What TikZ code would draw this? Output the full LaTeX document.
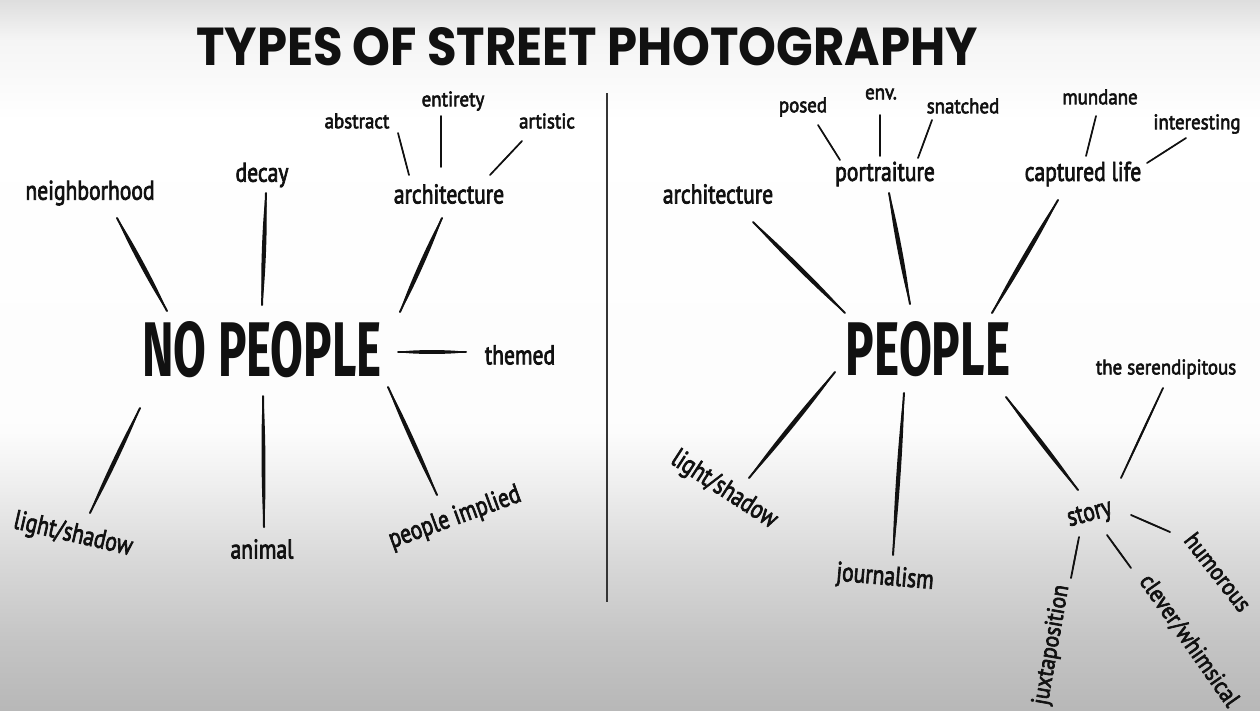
\documentclass[tikz,border=0pt]{standalone}
\usepackage{fontspec}
\usetikzlibrary{calc}
\newfontfamily\lblfont{PT Sans}[FakeBold=3]
\newfontfamily\bigfont{Fira Sans}
\newfontfamily\titlefont{Poppins}
\definecolor{ink}{HTML}{111111}
\definecolor{bgA}{gray}{0.72}
\definecolor{bgB}{gray}{0.77}
\definecolor{bgC}{gray}{0.85}
\definecolor{bgD}{gray}{0.94}
\definecolor{bgE}{gray}{0.99}
\definecolor{bgF}{gray}{1.0}
\definecolor{bgG}{gray}{0.96}
\definecolor{bgH}{gray}{0.87}
\pgfdeclareverticalshading{bgshade}{100bp}{color(0bp)=(bgA); color(25bp)=(bgA); color(29.9bp)=(bgB); color(35.6bp)=(bgC); color(41.2bp)=(bgD); color(44.7bp)=(bgE); color(66.5bp)=(bgF); color(72.2bp)=(bgG); color(75bp)=(bgH); color(100bp)=(bgH)}
\newcommand\cx[1]{\scalebox{0.8}[1]{#1}}
\newcommand\sx[1]{\scalebox{0.9}[1]{#1}}
\newcommand\tline[5]{%
  \coordinate (#1-s) at (#4);
  \coordinate (#1-e) at (#5);
  \fill[ink] (#1-s) .. controls ($(#1-s)!0.2!(#1-e)!#2!90:(#1-e)$) and ($(#1-s)!0.8!(#1-e)!#2!90:(#1-e)$) .. (#1-e)
    .. controls ($(#1-s)!0.8!(#1-e)!#2!-90:(#1-e)$) and ($(#1-s)!0.2!(#1-e)!#2!-90:(#1-e)$) .. (#1-s) -- cycle;
  \draw[ink, line width=#3, line cap=round] (#1-s) -- (#1-e);}
\tikzset{
  lab/.style={font=\lblfont\fontsize{27}{27}\selectfont, inner sep=1pt, text=ink},
  sml/.style={font=\lblfont\fontsize{21}{21}\selectfont, inner sep=1pt, text=ink},
  rot/.style={font=\lblfont\fontsize{24}{24}\selectfont, inner sep=1pt, text=ink},
  big/.style={font=\bigfont\bfseries, inner sep=0pt, text=ink},
}
\begin{document}
\begin{tikzpicture}[x=1pt,y=-1pt]
\useasboundingbox (0,0) rectangle (1260,710);
\shade[shading=bgshade] (0,0) rectangle (1260,710);
% title
\node[inner sep=0pt, text=ink] (title) at (587,47) {\titlefont\bfseries\resizebox{781pt}{38pt}{TYPES OF STREET PHOTOGRAPHY}};
% divider
\coordinate (divtop) at (607,93);
\coordinate (divbot) at (607,602);
\draw[ink!85, line width=1.8pt] (divtop) -- (divbot);
% ---------- left ----------
\node[big] (np) at (262,350) {\resizebox{239pt}{55pt}{NO PEOPLE}};
\node[lab] (nbh) at (90,193) {\cx{neighborhood}};
\node[lab] (decay) at (262,175) {\cx{decay}};
\node[lab] (archL) at (449,194) {\cx{architecture}};
\node[sml] (abstract) at (357,121) {\sx{abstract}};
\node[sml] (entirety) at (453,101) {\sx{entirety}};
\node[sml] (artistic) at (547,121) {\sx{artistic}};
\node[lab] (themed) at (520,355) {\cx{themed}};
\node[lab, rotate=-13] (lsL) at (73,535) {\cx{light/shadow}};
\node[lab] (animal) at (262,549) {\cx{animal}};
\node[lab, rotate=20] (pimp) at (455,518) {\cx{people implied}};
\tline{l1}{3.0pt}{2pt}{117,218}{167,311}
\tline{l2}{2.8pt}{2pt}{266,193}{262,305}
\tline{l3}{3.0pt}{2pt}{442,218}{400,312}
\tline{l4}{2.6pt}{2pt}{398,352}{466,352}
\tline{l5}{2.8pt}{2pt}{140,408}{90,513}
\tline{l6}{2.6pt}{2pt}{263,396}{264,527}
\tline{l7}{2.8pt}{2pt}{388,387}{437,495}
\tline{l8}{0.8pt}{1.7pt}{398,133}{409,175}
\tline{l9}{0.8pt}{1.7pt}{441,116}{441,167}
\tline{l10}{0.8pt}{1.7pt}{522,141}{490,175}
% ---------- right ----------
\node[big] (pp) at (928,349) {\resizebox{164pt}{54pt}{PEOPLE}};
\node[lab] (archR) at (718,194) {\cx{architecture}};
\node[lab] (portr) at (885,174) {\cx{portraiture}};
\node[sml] (posed) at (803,107) {\sx{posed}};
\node[sml] (env) at (881,94) {\sx{env.}};
\node[sml] (snatched) at (963,106) {\sx{snatched}};
\node[lab] (capt) at (1083,174) {\cx{captured life}};
\node[sml] (mundane) at (1100,97) {\sx{mundane}};
\node[sml] (interesting) at (1197,124) {\sx{interesting}};
\node[sml] (seren) at (1166,369) {\sx{the serendipitous}};
\node[lab, rotate=-33] (lsR) at (724,490) {\cx{light/shadow}};
\node[lab, rotate=-5] (journ) at (885,578) {\cx{journalism}};
\node[lab, rotate=15] (story) at (1090,515) {\cx{story}};
\node[rot, rotate=-52] (humor) at (1218,572) {\sx{humorous}};
\node[rot, rotate=-55] (clever) at (1189,641) {\sx{clever/whimsical}};
\node[rot, rotate=80] (juxt) at (1052,645) {\sx{juxtaposition}};
\tline{r1}{3.0pt}{2pt}{753,222}{845,313}
\tline{r2}{3.0pt}{2pt}{889,193}{910,304}
\tline{r3}{3.0pt}{2pt}{1058,200}{992,313}
\tline{r4}{0.8pt}{1.7pt}{818,125}{840,160}
\tline{r5}{0.8pt}{1.7pt}{880,115}{880,156}
\tline{r6}{0.8pt}{1.7pt}{932,120}{918,158}
\tline{r7}{0.8pt}{1.7pt}{1096,116}{1086,156}
\tline{r8}{0.8pt}{1.7pt}{1186,138}{1147,163}
\tline{r9}{3.0pt}{2pt}{835,372}{749,478}
\tline{r10}{2.8pt}{2pt}{904,393}{893,555}
\tline{r11}{2.8pt}{2pt}{1006,397}{1078,490}
\tline{r12}{1.4pt}{1.8pt}{1163,388}{1121,478}
\tline{r13}{1.0pt}{1.8pt}{1131,515}{1170,532}
\tline{r14}{1.0pt}{1.8pt}{1107,535}{1131,568}
\tline{r15}{1.0pt}{1.8pt}{1079,537}{1071,578}
\end{tikzpicture}
\end{document}
